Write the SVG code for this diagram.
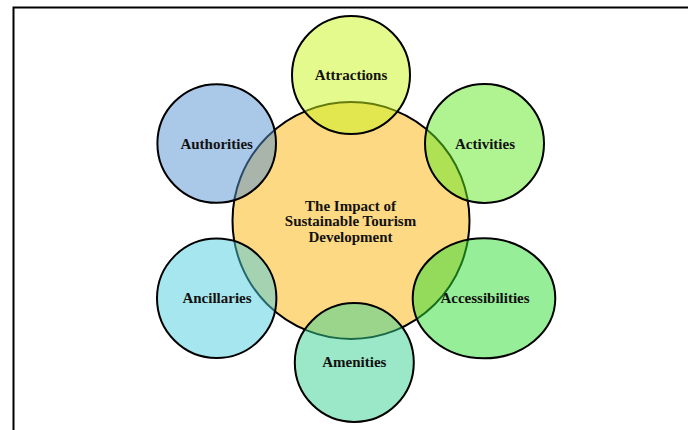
<svg xmlns="http://www.w3.org/2000/svg" width="688" height="430" viewBox="0 0 688 430">
  <style>
    .frame { fill: none; stroke: #000; stroke-width: 2; }
    .hub { fill: #fdd984; stroke: #000; stroke-width: 2; }
    .spoke { fill-opacity: 0.5; stroke: #000; stroke-width: 2; }
    .label { font-family: "Liberation Serif", "Times New Roman", serif; font-weight: bold; font-size: 15px; fill: #111; text-anchor: middle; }
  </style>
  <rect width="688" height="430" fill="#fff"/>
  <!-- open frame: top and left edges -->
  <path class="frame" d="M13.5 430 V7.5 H688"/>

  <!-- central topic -->
  <g id="hub">
    <circle class="hub" cx="351" cy="220.5" r="118.5"/>
  </g>

  <g id="connectors"></g>

  <!-- the six A's, translucent over the centre -->
  <g id="attractions">
    <circle class="spoke" cx="351" cy="75" r="59" fill="#c9f519"/>
    <text class="label" x="351" y="80">Attractions</text>
  </g>
  <g id="activities">
    <circle class="spoke" cx="484.5" cy="143.5" r="59.5" fill="#61e925"/>
    <text class="label" x="485" y="149.3">Activities</text>
  </g>
  <g id="accessibilities">
    <ellipse class="spoke" cx="484" cy="298.3" rx="71.3" ry="60" fill="#2ddd31"/>
    <text class="label" x="485" y="303.3">Accessibilities</text>
  </g>
  <g id="amenities">
    <circle class="spoke" cx="354.3" cy="362.5" r="59.5" fill="#37d191"/>
    <text class="label" x="354.3" y="366.7">Amenities</text>
  </g>
  <g id="ancillaries">
    <circle class="spoke" cx="216.7" cy="298.3" r="59.7" fill="#4dcddd"/>
    <text class="label" x="217" y="303.3">Ancillaries</text>
  </g>
  <g id="authorities">
    <circle class="spoke" cx="216.7" cy="143.5" r="59.3" fill="#5591d1"/>
    <text class="label" x="216.7" y="149.3">Authorities</text>
  </g>

  <!-- central caption above the overlaps -->
  <g id="hub-label">
    <text class="label" x="350.5" y="210.5">The Impact of</text>
    <text class="label" x="350.5" y="226">Sustainable Tourism</text>
    <text class="label" x="350.5" y="241.5">Development</text>
  </g>
</svg>
